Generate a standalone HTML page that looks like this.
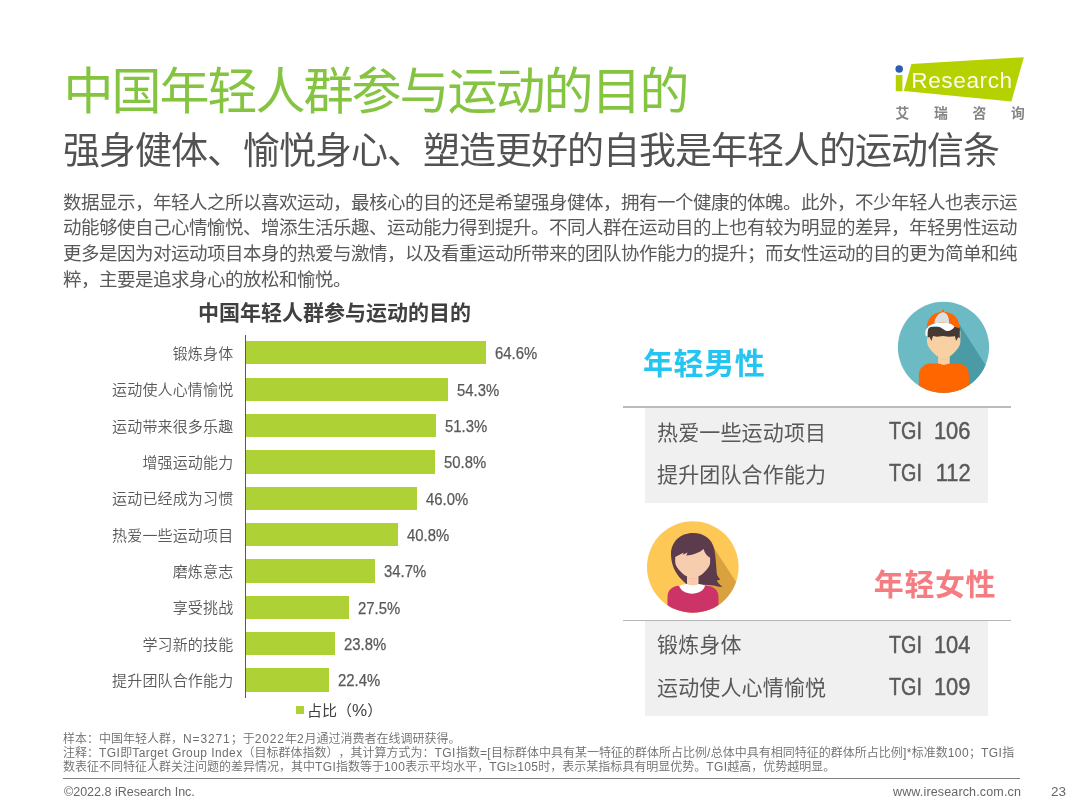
<!DOCTYPE html>
<html lang="zh-CN">
<head>
<meta charset="utf-8">
<title>中国年轻人群参与运动的目的</title>
<style>
html,body{margin:0;padding:0;background:#fff;}
body{width:1080px;height:810px;position:relative;overflow:hidden;font-family:"Liberation Sans","Noto Sans CJK SC",sans-serif;color:#595959;text-spacing-trim:space-all;}
#title{position:absolute;left:63.5px;top:56.5px;font-size:50px;line-height:70px;color:#84C441;font-weight:400;white-space:nowrap;letter-spacing:-2.0px;}
#sub{position:absolute;left:63px;top:124.8px;font-size:37px;line-height:54px;color:#525252;font-weight:400;white-space:nowrap;letter-spacing:-1px;}
#body{position:absolute;left:63px;top:0px;width:960px;font-size:18.5px;letter-spacing:-0.5px;line-height:25.5px;color:#595959;font-weight:400;}
#body div{white-space:nowrap;position:absolute;left:0;}
#ctitle{position:absolute;left:198px;top:297.7px;font-size:21px;line-height:30px;font-weight:700;color:#404040;white-space:nowrap;}
#axis{position:absolute;left:245px;top:335px;width:1px;height:363px;background:#595959;}
.lab{position:absolute;left:60px;width:173.3px;text-align:right;font-size:15px;letter-spacing:0.15px;margin-right:-0.15px;line-height:25px;height:25px;color:#595959;white-space:nowrap;font-weight:350;}
.bar{position:absolute;left:246px;height:23.2px;background:#AED136;}
.val{position:absolute;font-size:16px;line-height:25px;height:25px;color:#595959;-webkit-text-stroke:0.25px #595959;white-space:nowrap;transform:scaleX(0.93);transform-origin:left center;}
#legend{position:absolute;left:296px;top:700px;font-size:15px;line-height:22px;color:#404040;white-space:nowrap;}
#legend i{display:inline-block;width:8px;height:8px;background:#AED136;margin-right:3px;vertical-align:1.7px;}
#notes{position:absolute;left:63px;top:732.2px;font-size:12px;line-height:14.1px;color:#6e6e6e;white-space:nowrap;font-weight:350;}
.l{letter-spacing:0.35px;}
#n0 .l{letter-spacing:0.88px;}
#n1 .l{letter-spacing:0.42px;}
#fline{position:absolute;left:63px;top:777.5px;width:957px;height:1.4px;background:#808080;}
#copy{position:absolute;left:64px;top:784px;font-size:12.5px;line-height:17px;color:#666;white-space:nowrap;}
#url{position:absolute;left:893px;top:783.5px;font-size:12.5px;line-height:17px;color:#666;white-space:nowrap;letter-spacing:0.15px;}
#pg{position:absolute;left:1051px;top:783px;font-size:13.5px;line-height:17px;color:#666;white-space:nowrap;}
.h{position:absolute;font-size:30px;line-height:40px;font-weight:700;white-space:nowrap;}
.rule{position:absolute;left:623px;width:388px;height:2px;background:#bcbcbc;}
.box{position:absolute;left:644.6px;width:343.2px;height:94.5px;background:#f0f0f0;}
.t{position:absolute;font-size:21px;letter-spacing:0.15px;line-height:30px;color:#595959;white-space:nowrap;font-weight:400;}
.g{position:absolute;font-size:23.0px;line-height:30px;color:#595959;white-space:nowrap;-webkit-text-stroke:0.45px #595959;}
.gn{text-align:right;}
.tg{display:inline-block;transform:scaleX(0.86);transform-origin:left center;}
.nm{display:inline-block;transform:scaleX(0.95);transform-origin:right center;}
svg{position:absolute;display:block;overflow:visible;}
</style>
</head>
<body>
<div id="title">中国年轻人群参与运动的目的</div>
<div id="sub">强身健体、愉悦身心、塑造更好的自我是年轻人的运动信条</div>
<div id="body">
<div style="top:190px">数据显示，年轻人之所以喜欢运动，最核心的目的还是希望强身健体，拥有一个健康的体魄。此外，不少年轻人也表示运</div>
<div style="top:215.2px">动能够使自己心情愉悦、增添生活乐趣、运动能力得到提升。不同人群在运动目的上也有较为明显的差异，年轻男性运动</div>
<div style="top:241px">更多是因为对运动项目本身的热爱与激情，以及看重运动所带来的团队协作能力的提升；而女性运动的目的更为简单和纯</div>
<div style="top:267.3px">粹，主要是追求身心的放松和愉悦。</div>
</div>

<!-- logo -->
<svg id="logo" style="left:890px;top:52px" width="140" height="72" viewBox="0 0 140 72">
  <polygon points="21.4,11.9 133.9,5.2 121.4,49.4 13.75,39" fill="#B5D100"/>
  <rect x="5.8" y="23" width="6.6" height="16.25" fill="#B5D100"/>
  <circle cx="9.2" cy="17" r="3.75" fill="#2B5DAF"/>
  <text x="21.2" y="35.6" font-family="Liberation Sans, sans-serif" font-size="22.6" fill="#ffffff" fill-opacity="0.93" textLength="101" lengthAdjust="spacing">Research</text>
  <text x="5.6" y="66.2" font-family="Noto Sans CJK SC, sans-serif" font-size="13.8" font-weight="700" fill="#858585" letter-spacing="24.7">艾瑞咨询</text>
</svg>

<div id="ctitle">中国年轻人群参与运动的目的</div>
<div id="axis"></div>
<div class="lab" style="top:340.80px">锻炼身体</div>
<div class="bar" style="top:341.30px;width:240.0px"></div>
<div class="val" style="top:341.30px;left:495.0px">64.6%</div>
<div class="lab" style="top:377.15px">运动使人心情愉悦</div>
<div class="bar" style="top:377.65px;width:202.0px"></div>
<div class="val" style="top:377.65px;left:457.0px">54.3%</div>
<div class="lab" style="top:413.50px">运动带来很多乐趣</div>
<div class="bar" style="top:414.00px;width:190.2px"></div>
<div class="val" style="top:414.00px;left:445.2px">51.3%</div>
<div class="lab" style="top:449.85px">增强运动能力</div>
<div class="bar" style="top:450.35px;width:188.9px"></div>
<div class="val" style="top:450.35px;left:443.9px">50.8%</div>
<div class="lab" style="top:486.20px">运动已经成为习惯</div>
<div class="bar" style="top:486.70px;width:170.9px"></div>
<div class="val" style="top:486.70px;left:425.9px">46.0%</div>
<div class="lab" style="top:522.55px">热爱一些运动项目</div>
<div class="bar" style="top:523.05px;width:151.6px"></div>
<div class="val" style="top:523.05px;left:406.6px">40.8%</div>
<div class="lab" style="top:558.90px">磨炼意志</div>
<div class="bar" style="top:559.40px;width:129.1px"></div>
<div class="val" style="top:559.40px;left:384.1px">34.7%</div>
<div class="lab" style="top:595.25px">享受挑战</div>
<div class="bar" style="top:595.75px;width:102.8px"></div>
<div class="val" style="top:595.75px;left:357.8px">27.5%</div>
<div class="lab" style="top:631.60px">学习新的技能</div>
<div class="bar" style="top:632.10px;width:89.0px"></div>
<div class="val" style="top:632.10px;left:344.0px">23.8%</div>
<div class="lab" style="top:667.95px">提升团队合作能力</div>
<div class="bar" style="top:668.45px;width:83.0px"></div>
<div class="val" style="top:668.45px;left:338.0px">22.4%</div>
<div id="legend"><i></i>占比（<span style="font-size:17px;line-height:1">%</span>）</div>

<div id="notes">
<div id="n0">样本：中国年轻人群，<span class="l">N=3271</span>；于<span class="l">2022</span>年<span class="l">2</span>月通过消费者在线调研获得。</div>
<div id="n1">注释：<span class="l">TGI</span>即<span class="l">Target Group Index</span>（目标群体指数），其计算方式为：<span class="l">TGI</span>指数<span class="l">=[</span>目标群体中具有某一特征的群体所占比例<span class="l">/</span>总体中具有相同特征的群体所占比例<span class="l">]*</span>标准数<span class="l">100</span>；<span class="l">TGI</span>指</div>
<div id="n2">数表征不同特征人群关注问题的差异情况，其中<span class="l">TGI</span>指数等于<span class="l">100</span>表示平均水平，<span class="l">TGI≥105</span>时，表示某指标具有明显优势。<span class="l">TGI</span>越高，优势越明显。</div>
</div>
<div id="fline"></div>
<div id="copy">©2022.8 iResearch Inc.</div>
<div id="url">www.iresearch.com.cn</div>
<div id="pg">23</div>

<!-- male -->
<div class="h" style="left:643px;top:344px;color:#25C5F2;letter-spacing:0.6px">年轻男性</div>
<svg style="left:897px;top:301px" width="93" height="93" viewBox="0 0 93 93">
  <defs><clipPath id="cm"><circle cx="46.5" cy="46.3" r="45.6"/></clipPath></defs>
  <circle cx="46.5" cy="46.3" r="45.6" fill="#6CBAC4"/>
  <g clip-path="url(#cm)">
    <polygon points="62.8,23.8 100,82 100,100 70,100 42,56" fill="#4A9BA6"/>
    <rect x="41.1" y="52" width="11.6" height="13" fill="#F9D0A2"/>
    <path d="M21.9,100 V74 C21.9,67 27,62.5 34,62.5 H41.5 L46.8,64 L52.5,62.5 H60 C67,62.5 71.9,67 71.9,74 V100 Z" fill="#FF6600"/>
    <path d="M30,30 V41 C30.2,45 33,48.5 37,52.5 C40,55.5 43,57 46.7,57 C50.4,57 53.4,55.5 56.4,52.5 C60.4,48.5 63.2,45 63.4,41 V30 Z" fill="#F9D0A2"/>
    <path d="M42.3,57.2 Q46.9,59.8 51.5,57.2 Q46.9,58.6 42.3,57.2 Z" fill="#EDB98A"/>
    <path d="M30.4,26 L62.8,26 L62.8,37 L61.2,36.2 L59,40 L58,35.2 L52,35.8 L46,35 L40,35.8 L36,35 L34.4,40 L32.6,36 L30.4,36.5 Z" fill="#453A33"/>
    <path d="M29.8,27 C29.8,17 37,10.8 46,10.8 C55.5,10.8 62.7,17 62.8,27.5 L57,25.5 L40,21 L31,25 Z" fill="#FF6600"/>
    <circle cx="46" cy="10" r="1.2" fill="#FF6600"/>
    <path d="M37.2,22.5 C38,16 42,11.5 46,11.2 C50,11.5 52.3,16 52.2,22.5 L46,21 Z" fill="#D8E1E3"/>
    <path d="M28.6,34.5 C27.6,29 30,26 34,24 C39,21.4 45,21 50,21.8 C53.5,22.4 56,24 57.5,25.8 C56,28.5 53,30.2 50,30 C47,29.5 45,26.5 41,25.5 C37,24.6 33,25.5 31.5,27.5 C30.5,29.5 30.3,33 30.4,36 Z" fill="#ffffff"/>
  </g>
</svg>
<div class="rule" style="top:406px"></div>
<div class="box" style="top:408px"></div>
<div class="t" style="left:657px;top:417.8px">热爱一些运动项目</div>
<div class="g" style="left:889px;top:416.1px"><span class="tg">TGI</span></div><div class="g gn" style="left:900px;width:70.3px;top:416.1px"><span class="nm">106</span></div>
<div class="t" style="left:657px;top:459.8px">提升团队合作能力</div>
<div class="g" style="left:889px;top:458.1px"><span class="tg">TGI</span></div><div class="g gn" style="left:900px;width:70.3px;top:458.1px"><span class="nm">112</span></div>

<!-- female -->
<svg style="left:647px;top:521px" width="93" height="93" viewBox="0 0 93 93">
  <defs><clipPath id="cf"><circle cx="45.8" cy="46" r="45.8"/></clipPath></defs>
  <circle cx="45.8" cy="46" r="45.8" fill="#FDC855"/>
  <g clip-path="url(#cf)">
    <polygon points="67.3,27.5 100,77.7 100,100 60,100 45,70" fill="#D9A23E"/>
    <path d="M46,11.9 C33,11.9 24,21 24,33 C24,42 27,50 33,57 C36,60 38,62 39.5,63 L62,64 L67,64.5 C70,65.5 73,66 75.6,65.7 C72,63.5 70.5,61 69.8,59.5 C71,59.5 72.5,59 73.3,58.3 C70.5,56 69.6,53 69.6,50 C69,42 68.5,34 67.3,28 C65,18 57,11.9 46,11.9 Z" fill="#5C3B4C"/>
    <path d="M20.5,100 V76 C20.5,69 26,64.8 32,64.8 H59 C66,64.8 71.5,69 71.5,76 V100 Z" fill="#CC3366"/>
    <path d="M32.1,64.6 Q37,63 40,63 H51.5 Q54,63 58,64.6 C57,70 51,72.7 45.1,72.7 C39,72.7 33.5,70 32.1,64.6 Z" fill="#ffffff"/>
    <path d="M40,52 H51.5 V62.5 Q51.5,64.3 45.7,64.3 Q40,64.3 40,62.5 Z" fill="#F7CDB0"/>
    <path d="M28.2,36 C31,34.5 34,33.3 36.7,31.6 L35.6,33.8 L40.6,31.4 L39.2,34.6 C46,34 52,32 56.6,28 C57.5,32 60,35 63.1,36.8 V41.5 C63.1,45 60.5,48 56.5,52 C53.5,55 50,56.3 45.6,56.3 C41,56.3 38,55 35,52 C31,48 28.4,45 28.2,41.5 Z" fill="#F7CDB0"/>
    <path d="M41.2,56.9 Q45.8,59.4 50.4,56.9 Q45.8,58.3 41.2,56.9 Z" fill="#EDB094"/>
  </g>
</svg>
<div class="h" style="left:873.8px;top:565px;color:#F57D82;letter-spacing:0.6px">年轻女性</div>
<div class="rule" style="top:619.6px;height:1.8px;background:#b6b6b6"></div>
<div class="box" style="top:621.4px;height:94.8px"></div>
<div class="t" style="left:657px;top:630.3px">锻炼身体</div>
<div class="g" style="left:889px;top:629.9px"><span class="tg">TGI</span></div><div class="g gn" style="left:900px;width:70.3px;top:629.9px"><span class="nm">104</span></div>
<div class="t" style="left:657px;top:672.8px">运动使人心情愉悦</div>
<div class="g" style="left:889px;top:671.9px"><span class="tg">TGI</span></div><div class="g gn" style="left:900px;width:70.3px;top:671.9px"><span class="nm">109</span></div>
</body>
</html>
